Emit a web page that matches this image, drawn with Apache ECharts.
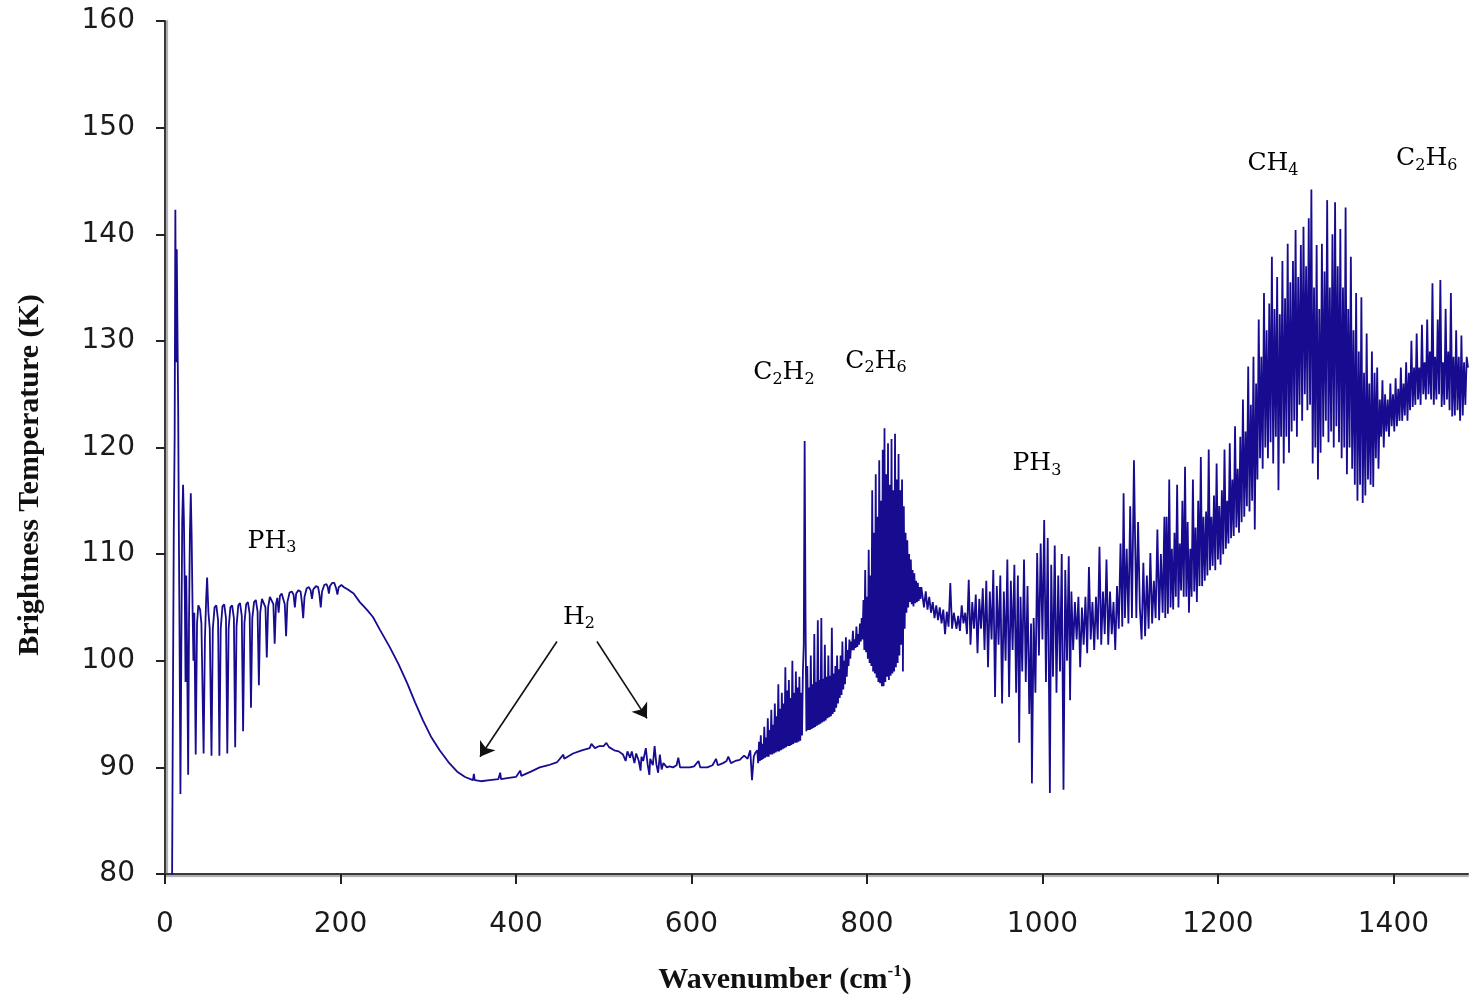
<!DOCTYPE html>
<html>
<head>
<meta charset="utf-8">
<script src="https://cdn.jsdelivr.net/npm/echarts@6/dist/echarts.min.js"></script>
<style>html,body{margin:0;padding:0;background:#fff;}#c{width:1470px;height:999px;}</style>
</head>
<body>
<div id="c"></div>
<script>
// ---- Data: brightness temperature (K) vs wavenumber (cm-1) ----
// Far-IR PH3 rotational lines, [wavenumber, temperature]
const farIR = [
[8,78],[9,96],[10,112],[11,121],[11.8,142.3],[12.6,128],[13.4,138.6],[14.2,131],[15,124],[15.8,112],[16.6,102],[17.6,87.5],[18.6,101],[19.6,113],[20.6,116.5],[21.6,113],[22.6,106],[23.4,98],[24.2,108],[25.2,101],[26.4,89.3],[27.4,104],[28.4,112],[29.4,115.7],[30.4,111.5],[31.4,105],[32.4,100],[33.4,104.5],
[35,91.2],[36.5,103.5],[38,105.2],[40,104.8],[41.5,103.5],
[44,91.3],[45.5,102],[47,106],[48,107.8],[49.5,104.5],[51,103],
[53,91.1],[54.5,103],[56.5,105],[58.5,105.2],[60.5,103.8],
[62,91.1],[63.5,103],[65.5,105.1],[67.5,105.3],[69.5,104],
[71,91.3],[72.5,103],[74.5,105],[76.5,105.2],[78.5,104],
[80,91.9],[81.5,103.2],[83.5,105.2],[85.5,105.4],[87.5,104.2],
[89,93.4],[90.5,103.5],[92.5,105.3],[94.5,105.5],[96.5,104.4],
[98,95.6],[99.5,104],[101.5,105.5],[103.5,105.7],[105.5,104.6],
[107,97.7],[108.5,104.5],[110.5,105.8],[112.5,105.9],[114.5,105],
[116,100.3],[117.5,105],[119.5,106],[121.5,106.1],[123.5,105.3],
[125,101.6],[126.5,105.3],[128,105.9],[129.5,104.5],[131,106.1],[133,106.3],[135,106.2],[136.5,105.3],
[138,102.3],[139.5,105.5],[142,106.4],[144.5,106.5],[146.5,106.2],[148,105],[149.5,106.3],[152,106.6],[154.5,106.5],[156,105.5],
[157.5,104],[159,106],[161.5,106.8],[164,106.9],[166,106.6],[167.5,105.8],[169,106.7],[172,107],[174.5,106.9],[176,106.2],
[177.5,105],[179,106.5],[181.5,107.1],[184,107.2],[185.5,106.9],[186.8,106.3],[188,107],[190.5,107.3],[193,107.3],[195,106.8],
[196.5,106.2],[198,106.9],[201,107.1],[204,106.9]
];
// H2 collision-induced continuum, [wavenumber, temperature]
const h2Continuum = [
[208,106.7],[215,106.3],[222,105.5],[230,104.8],[237,104.1],[245,102.9],[256,101.3],[266,99.7],[276,97.9],[285,96.1],[294,94.4],[303,92.9],[313,91.6],[323,90.5],[333,89.6],[342,89.1],[351,88.8],[352,89.4],[353,88.8],[360,88.7],[370,88.8],[380,88.9],[382,89.5],[383,88.9],[390,89.0],[400,89.1],[405,89.7],[406,89.2],[417,89.6],[427,90.0],[437,90.2],[447,90.5],[454,91.2],[455,90.8],[465,91.3],[475,91.6],[484,91.8],[486,92.2],[490,91.8],[495,92.0],[500,92.0],[503,92.3],[506,91.9],[512,91.6],[517,91.5],[522,91.2],[525,90.6],[527,91.5],[530,90.9],[532,91.5],[535,90.4],[537,91.3],[540,90.6],[542,89.7],[543,91.0],[545,90.6],[548,91.8],[550,90.3],[552,89.3],[553,90.8],[556,90.2],[558,92.0],[560,90.3],[562,89.5],[564,91.2],[566,89.8],[568,90.4],[572,90.0],[575,90.1],[579,90.0],[583,90.2],[585,90.9],[587,90.0],[593,90.0],[598,90.0],[603,90.1],[608,90.6],[610,90.0],[618,90.0],[624,90.2],[628,90.8],[630,90.2],[636,90.4],[640,90.6],[642,91.0],[645,90.4],[650,90.6],[655,90.7],[660,91.1],[664,90.8],[667,91.6],[669,88.8],[671,91.0],[673,91.4]
];
// C2H2 / C2H6 bands: sampled every 1 cm-1 starting at 675 cm-1
const hcStart = 675, hcStep = 1;
const hcTemps = [
91.6,90.4,92.4,90.6,93.0,90.7,92.2,90.8,93.8,90.9,
92.8,91.0,94.6,91.0,93.5,91.2,95.4,91.2,94.0,91.3,
96.0,91.4,94.8,91.5,97.8,91.5,95.5,91.6,97.0,91.7,
96.0,91.8,99.4,91.9,97.2,92.0,98.2,92.0,96.5,92.1,
100.0,92.2,97.0,92.3,99.0,92.3,97.5,92.4,98.5,92.5,
97.0,93.0,99.0,101.5,120.6,104.0,93.4,99.5,93.5,97.5,
93.5,100.5,93.6,97.8,93.7,102.5,93.8,98.0,93.9,103.8,
94.0,98.2,94.1,104.0,94.2,98.3,94.3,101.5,94.4,98.5,
94.6,100.5,94.7,98.6,94.8,103.1,95.0,98.8,95.2,99.5,
95.6,100.5,96.0,99.2,96.5,100.5,96.8,101.8,97.3,100.0,
97.8,102.2,98.5,101.0,99.5,102.0,100.2,101.8,101.0,102.8,
101.0,102.0,101.2,103.2,101.3,102.5,101.5,103.5,101.8,104.0,
102.0,105.7,101.0,108.5,100.8,106.0,100.2,110.4,99.8,108.0,
99.5,116.0,99.0,112.0,98.8,117.5,98.4,113.5,98.0,118.8,
97.9,115.0,97.6,119.8,97.6,121.8,98.0,117.5,98.5,120.4,
98.2,116.5,98.6,120.8,98.8,116.0,99.0,121.3,99.4,117.0,
99.8,119.4,100.5,116.0,101.5,117.0,99.0,114.5,103.0,112.0,
104.5,111.3,105.0,110.0,105.5,109.5,105.3,108.5,105.1,108.2,
105.4,107.5,105.5,107.3,105.6,106.9,105.8,106.9
];
// C2H6 band wing, [wavenumber, temperature]
const c2h6Wing = [
[865,105.0],[867,106.5],[869,104.8],[871,106.0],[873,104.5],[875,105.5],[877,104.0],[879,105.2],[881,103.8],[883,105.0],[885,103.5],[887,104.8],[889,102.5],[891,104.6],[893,103.2],[895,107.3],[897,103.0],[899,104.5]
];
// PH3 band, [wavenumber, temperature]
const ph3Band = [
[900,104.6],[902,103.0],[904,104.2],[906,102.8],[908,105.2],[910,103.5],[912,104.5],[914,102.5],[916,107.6],[918,101.5],[920,105.5],[922,103.0],[924,106.2],[926,100.7],[928,105.8],[930,103.0],[932,106.8],[934,101.0],[936,107.5],[938,99.4],[940,106.5],[942,102.0],[944,108.5],[946,96.6],[948,107.0],[950,101.5],[952,108.0],[954,96.0],[956,106.5],[958,100.0],[960,109.5],[962,96.6],[964,107.5],[966,101.0],[968,109.0],[970,97.0],[972,108.0],[973.5,92.3],[975,106.0],[977,99.0],[979,109.5],[981,98.0],[983,107.0],[985,95.0],[987,103.5],[988,88.5],[990,104.0],[992,97.0],[994,110.1],[996,100.5],[998,111.0],[1000,102.0],[1002,113.2],[1004,98.0],[1006,111.5],[1008.5,87.6],[1010,109.0],[1012,98.5],[1014,110.8],[1016,97.0],[1018,108.0],[1020,99.0],[1022,110.0],[1024,87.9],[1026,108.5],[1028,100.0],[1030,109.8],[1031.5,96.3],[1033,106.5],[1035,101.0],[1037,105.5],[1039,102.0],[1041,106.0],[1043,99.4],[1045,105.0],[1047,101.5],[1049,106.0],[1051,100.7],[1053,108.8],[1055,102.0],[1057,105.5],[1059,101.0],[1061,106.0],[1063,102.0],[1065,110.7],[1067,101.5],[1069,106.5],[1071,102.5],[1073,109.5],[1075,101.5],[1077,106.5],[1079,102.5],[1081,105.5],[1083,101.0],[1085,107.0],[1087,103.0],[1089,111.0],[1091,103.2],[1092.5,115.7],[1094,104.0],[1096,110.5],[1098,103.5],[1100,114.5],[1102,104.0],[1104.3,118.8],[1105.5,112.0],[1107,104.0],[1109,113.0],[1111,105.0],
[1113,102.0],[1115,109.2],[1117,102.3],[1119,108.0],[1121,103.0],[1123,110.1],[1125,103.5],[1127,107.5],[1129,104.0],[1131,112.3],[1133,103.8],[1135,110.0],[1137,104.5],[1139,113.5]
];
// CH4 / C2H6 bands: sampled every 1.5 cm-1 starting at 1140 cm-1
const ch4Start = 1140, ch4Step = 1.5;
const ch4Temps = [
104.0,113.5,104.4,117.0,105.0,110.5,104.8,112.0,106.0,116.5,
105.0,111.0,106.6,115.0,106.0,118.2,106.0,113.0,104.5,110.5,
106.0,117.0,106.5,112.5,105.5,115.0,107.0,119.1,107.0,113.5,
107.5,114.0,108.0,119.8,108.5,113.5,108.9,115.5,108.5,118.5,
109.5,114.5,109.0,116.0,110.0,119.8,110.5,115.0,111.0,120.4,
111.5,117.0,111.7,122.0,112.5,118.0,112.0,121.0,113.0,124.5,
113.5,121.5,114.5,127.6,114.0,124.0,115.0,128.5,112.3,126.0,
117.0,132.0,119.0,128.5,118.0,134.5,120.0,131.0,119.0,133.5,
120.5,137.9,118.5,133.0,121.0,136.0,116.0,132.5,121.0,137.5,
118.5,134.0,121.0,139.1,119.5,135.5,121.5,137.5,122.5,140.4,
121.0,136.0,124.0,139.0,122.5,140.7,125.0,137.0,123.5,141.5,
124.0,144.2,118.5,135.0,120.0,139.0,117.0,133.0,119.5,139.1,
121.0,136.5,122.5,143.2,120.5,135.0,121.5,140.0,120.0,143.0,
122.0,137.0,120.5,140.5,119.0,135.0,120.0,142.5,117.5,133.0,
120.0,137.9,118.0,131.0,116.5,134.5,115.0,129.0,116.5,134.1,
114.8,127.0,115.5,130.7,117.0,126.0,116.5,129.0,116.3,127.0,
119.0,127.5,118.0,124.5,121.0,126.3,120.0,125.0,121.5,124.5,
121.0,126.0,122.0,125.0,121.5,126.5,122.0,125.5,122.5,127.5,
122.5,126.0,123.0,128.0,122.5,127.0,123.5,130.0,123.8,127.5,
124.0,130.7,124.5,127.5,124.0,131.5,125.0,128.0,124.5,132.0,
125.0,129.0,124.5,135.4,124.0,128.5,124.5,132.0,125.0,135.7,
123.8,128.0,124.0,133.0,124.5,129.0,123.5,134.5,122.9,128.5,
123.0,131.0,123.5,128.5,122.5,130.5,123.0,128.0,124.0,128.5,
127.5
];

const xTicks = [0, 200, 400, 600, 800, 1000, 1200, 1400];
const yTicks = [80, 90, 100, 110, 120, 130, 140, 150, 160];

// Molecule annotations (rich text: a = normal, b = subscript) and their anchors in data units
const labelTexts = ['{a|PH}{b|3}', '{a|H}{b|2}', '{a|C}{b|2}{a|H}{b|2}', '{a|C}{b|2}{a|H}{b|6}', '{a|PH}{b|3}', '{a|CH}{b|4}', '{a|C}{b|2}{a|H}{b|6}'];
const labelX = [121.9, 471.8, 705.4, 810.3, 993.7, 1262.7, 1438.0];
const labelY = [111.2, 104.1, 127.0, 128.1, 118.5, 146.6, 147.1];

// H2 arrows: [from, to] in data units
const arrows = [
  [[446.7, 101.8], [359.0, 91.0]],
  [[492.3, 101.8], [549.3, 94.6]]
];

const sampled = (start, step, vals) => vals.map((v, i) => [start + i * step, v]);
const spectrum = [].concat(
  farIR, h2Continuum,
  sampled(hcStart, hcStep, hcTemps),
  c2h6Wing, ph3Band,
  sampled(ch4Start, ch4Step, ch4Temps)
);

const chart = echarts.init(document.getElementById('c'), null, {renderer: 'canvas'});
const axisColor = '#3a3a3a';
chart.setOption({
  animation: false,
  backgroundColor: '#ffffff',
  grid: {left: 165, right: 2, top: 21, bottom: 125, containLabel: false},
  xAxis: {
    type: 'value', min: 0, max: 1485,
    axisLine: {show: true, onZero: false, lineStyle: {color: axisColor, width: 2, shadowColor: 'rgba(0,0,0,0.35)', shadowOffsetY: 2, shadowBlur: 1}},
    axisTick: {show: true, inside: false, length: 10, customValues: xTicks, lineStyle: {color: '#222', width: 2}},
    axisLabel: {customValues: xTicks, margin: 37, color: '#1a1a1a', fontFamily: 'DejaVu Sans', fontSize: 28, formatter: v => String(v)},
    splitLine: {show: false}
  },
  yAxis: {
    type: 'value', min: 80, max: 160, interval: 10,
    axisLine: {show: true, onZero: false, lineStyle: {color: axisColor, width: 2, shadowColor: 'rgba(0,0,0,0.35)', shadowOffsetX: 2, shadowBlur: 1}},
    axisTick: {show: true, inside: false, length: 9, customValues: yTicks, lineStyle: {color: '#222', width: 2}},
    axisLabel: {customValues: yTicks, margin: 30, color: '#1a1a1a', fontFamily: 'DejaVu Sans', fontSize: 28, formatter: v => String(v)},
    splitLine: {show: false}
  },
  series: [
    {
      type: 'line',
      data: spectrum,
      showSymbol: false,
      sampling: null,
      clip: true,
      lineStyle: {color: '#170b8f', width: 1.8},
      z: 2,
      markLine: {
        silent: true,
        animation: false,
        symbol: ['none', 'arrow'],
        symbolSize: 14,
        label: {show: false},
        itemStyle: {color: '#111'},
        lineStyle: {color: '#111', width: 1.6, type: 'solid'},
        data: arrows.map(a => [
          {coord: a[0], symbol: 'none'},
          {coord: a[1], symbol: 'arrow', symbolSize: 14}
        ])
      }
    },
    {
      type: 'scatter',
      symbolSize: 0,
      silent: true,
      z: 5,
      itemStyle: {opacity: 1},
      data: labelX.map((x, i) => [x, labelY[i]]),
      label: {
        show: true,
        position: 'inside',
        color: '#000',
        textBorderWidth: 0,
        formatter: p => labelTexts[p.dataIndex],
        rich: {
          a: {fontFamily: 'DejaVu Serif', fontSize: 25, color: '#000', lineHeight: 30, verticalAlign: 'middle'},
          b: {fontFamily: 'DejaVu Serif', fontSize: 16, color: '#000', lineHeight: 12, verticalAlign: 'bottom'}
        }
      }
    }
  ],
  graphic: [
    {
      type: 'text', x: 785, y: 980,
      style: {
        text: '{a|Wavenumber (cm}{s|-1}{a|)}',
        align: 'center', verticalAlign: 'middle', textAlign: 'center', textVerticalAlign: 'middle',
        rich: {
          a: {fontFamily: 'Liberation Serif', fontWeight: 'bold', fontSize: 30, fill: '#111', color: '#111', lineHeight: 34},
          s: {fontFamily: 'Liberation Serif', fontWeight: 'bold', fontSize: 17, fill: '#111', color: '#111', lineHeight: 14, verticalAlign: 'top'}
        }
      }
    },
    {
      type: 'text', x: 30, y: 475, rotation: Math.PI / 2,
      style: {
        text: 'Brightness Temperature (K)',
        align: 'center', verticalAlign: 'middle', textAlign: 'center', textVerticalAlign: 'middle',
        font: 'bold 30px "Liberation Serif"', fill: '#111'
      }
    }
  ]
});
</script>
</body>
</html>
